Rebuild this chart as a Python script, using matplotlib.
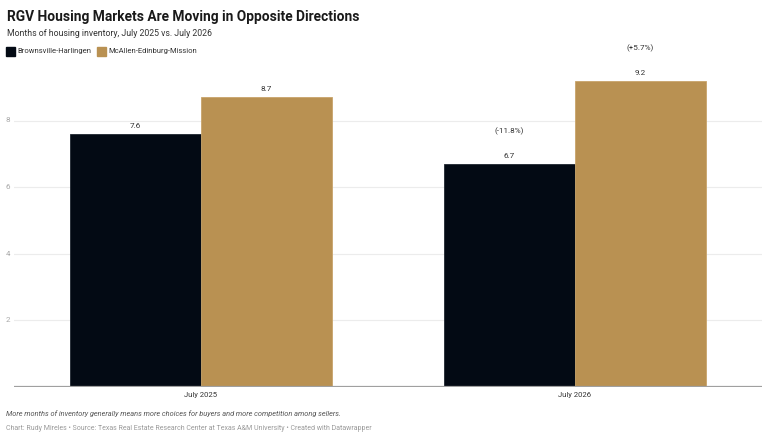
import matplotlib
matplotlib.use("Agg")
import matplotlib.pyplot as plt
import numpy as np

plt.rcParams['font.family'] = ['Roboto', 'DejaVu Sans']

categories = ["July 2025", "July 2026"]
series_names = ["Brownsville-Harlingen", "McAllen-Edinburg-Mission"]
brownsville = [7.6, 6.7]
mcallen = [8.7, 9.2]
changes_brownsville = [None, "(-11.8%)"]
changes_mcallen = [None, "(+5.7%)"]
yticks = [2, 4, 6, 8]
colors = ["#030a14", "#b99152"]

W, H = 768, 438
fig = plt.figure(figsize=(W / 100, H / 100), dpi=100)
ax_left, ax_right = 14, 762
y0_px, ytop_px = 386.5, 54.0
ax = fig.add_axes([ax_left / W, (H - y0_px) / H, (ax_right - ax_left) / W, (y0_px - ytop_px) / H])
ax.set_xlim(-0.5, 1.5)
ax.set_ylim(0, 10)

x = np.arange(len(categories))
bw = 0.35
edges = ["#1f2630", "#c9a46a"]
for i, (vals, chg) in enumerate([(brownsville, changes_brownsville), (mcallen, changes_mcallen)]):
    pos = x + (i - 0.5) * bw
    ax.bar(pos, vals, width=bw, color=colors[i], edgecolor=edges[i], linewidth=0.6, zorder=3)
    for p, v, c in zip(pos, vals, chg):
        ax.text(p, v + 0.15, f"{v:.1f}", ha="center", va="bottom", fontsize=5.9, color="#333333", zorder=4)
        if c:
            ax.text(p, v + 0.85, c, ha="center", va="bottom", fontsize=5.9, color="#333333", zorder=4)

for t in yticks:
    ax.axhline(t, color="#ececec", linewidth=0.8, zorder=1)
    fig.text(8 / W, (H - (y0_px - t * (y0_px - ytop_px) / 10)) / H, str(t), ha="center", va="center",
             fontsize=5.8, color="#a8a8a8")
ax.axhline(0, color="#a0a0a0", linewidth=1.6, zorder=5)

for s in ax.spines.values():
    s.set_visible(False)
ax.set_yticks([])
ax.set_xticks(x)
ax.set_xticklabels(categories, fontsize=5.5, color="#333333")
ax.tick_params(axis="x", length=0, pad=4)

fig.text(7 / W, 1 - 17 / H, "RGV Housing Markets Are Moving in Opposite Directions", ha="left", va="center",
         fontsize=9.9, fontweight="bold", color="#1a1a1a")
fig.text(7 / W, 1 - 34 / H, "Months of housing inventory, July 2025 vs. July 2026", ha="left", va="center",
         fontsize=6.3, color="#333333")

# legend
for i, name in enumerate(series_names):
    lx = [6, 97][i]
    fig.patches.append(matplotlib.patches.Rectangle((lx / W, 1 - 56 / H), 9 / W, 9 / H, transform=fig.transFigure,
                                                    color=colors[i], figure=fig))
    fig.text((lx + 11) / W, 1 - 51 / H, name, ha="left", va="center", fontsize=5.5, color="#333333")

fig.text(6 / W, 1 - 414 / H, "More months of inventory generally means more choices for buyers and more competition among sellers.",
         ha="left", va="center", fontsize=5.3, style="italic", color="#555555")
fig.text(6 / W, 1 - 428 / H, "Chart: Rudy Mireles \u2022 Source: Texas Real Estate Research Center at Texas A&M University \u2022 Created with Datawrapper",
         ha="left", va="center", fontsize=5.0, color="#9a9a9a")

fig.savefig("out.png", dpi=100)
